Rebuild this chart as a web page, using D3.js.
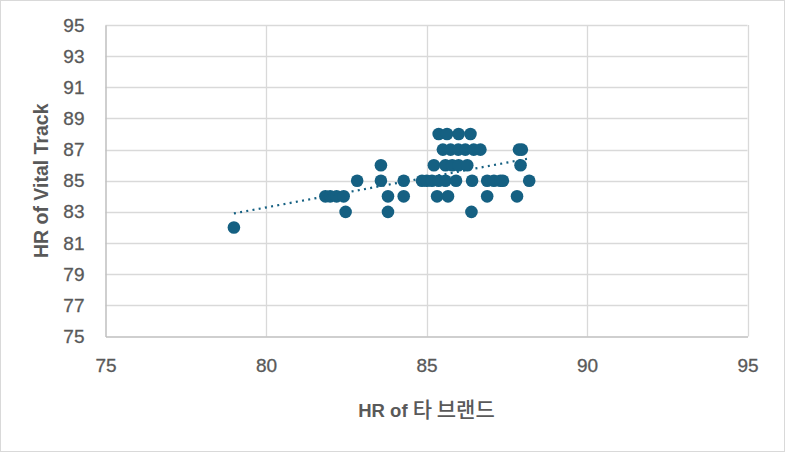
<!DOCTYPE html>
<html><head><meta charset="utf-8">
<script src="https://cdn.jsdelivr.net/npm/d3@7"></script>
<style>
html,body{margin:0;padding:0;background:#fff;}
svg{display:block;}
</style></head>
<body>
<script>
// Data
const xLabel = "HR of 타 브랜드";
const yLabel = "HR of Vital Track";
const xTicks = [75, 80, 85, 90, 95];
const yTicks = [75, 77, 79, 81, 83, 85, 87, 89, 91, 93, 95];
const hrOther = [
  79.0,
  81.85, 82.0, 82.2, 82.42,
  82.48,
  82.84,
  83.58, 83.58,
  83.8, 83.8,
  84.29, 84.29,
  85.38, 85.64, 86.0, 86.37,
  85.51, 85.75, 85.99, 86.21, 86.47, 86.68, 87.88, 87.97,
  85.23, 85.59, 85.8, 86.0, 86.27, 87.93,
  84.86, 85.01, 85.17, 85.38, 85.59, 85.92, 86.42, 86.89, 87.1, 87.3, 87.38, 88.2,
  85.33, 85.67, 86.89, 87.82,
  86.4
];
const hrVital = [
  82,
  84, 84, 84, 84,
  83,
  85,
  86, 85,
  84, 83,
  85, 84,
  88, 88, 88, 88,
  87, 87, 87, 87, 87, 87, 87, 87,
  86, 86, 86, 86, 86, 86,
  85, 85, 85, 85, 85, 85, 85, 85, 85, 85, 85, 85,
  84, 84, 84, 84,
  83
];

const W = 785, H = 452;
const color = "#156082";
const svg = d3.select("body").append("svg").attr("width", W).attr("height", H);

svg.append("rect").attr("x", 0.5).attr("y", 0.5).attr("width", W - 1).attr("height", H - 1)
  .attr("fill", "#fff").attr("stroke", "#d9d9d9").attr("stroke-width", 1);

const x = d3.scaleLinear().domain([75, 95]).range([105.5, 747.5]);
const y = d3.scaleLinear().domain([75, 95]).range([336.5, 25]);

// gridlines
const g = svg.append("g");
g.selectAll(".vg").data(xTicks.slice(1)).join("line")
  .attr("x1", d => Math.round(x(d)) + 0.5).attr("x2", d => Math.round(x(d)) + 0.5)
  .attr("y1", y(95)).attr("y2", y(75))
  .attr("stroke", "#d9d9d9").attr("stroke-width", 1.3);
g.selectAll(".hg").data(yTicks.slice(1)).join("line")
  .attr("x1", x(75)).attr("x2", x(95))
  .attr("y1", d => Math.round(y(d)) + 0.5).attr("y2", d => Math.round(y(d)) + 0.5)
  .attr("stroke", "#d9d9d9").attr("stroke-width", 1.3);

// axes
const font = "'Liberation Sans', Arial, sans-serif";
const xAxis = d3.axisBottom(x).tickValues(xTicks).tickSize(0).tickPadding(22);
const yAxis = d3.axisLeft(y).tickValues(yTicks).tickSize(0).tickPadding(21);
const gx = svg.append("g").attr("transform", `translate(0,${y(75)})`).call(xAxis);
const gy = svg.append("g").attr("transform", `translate(${x(75)},0)`).call(yAxis);
[gx, gy].forEach(a => {
  a.select(".domain").attr("stroke", "#bfbfbf").attr("stroke-width", 1.5);
  a.selectAll("text").attr("font-family", font).attr("font-size", 19)
    .attr("fill", "#595959").attr("font-weight", 500)
    .attr("stroke", "#595959").attr("stroke-width", 0.3);
});

// trendline (linear regression of the data)
const n = hrOther.length;
const mx = d3.mean(hrOther), my = d3.mean(hrVital);
let sxy = 0, sxx = 0;
for (let i = 0; i < n; i++) { sxy += (hrOther[i] - mx) * (hrVital[i] - my); sxx += (hrOther[i] - mx) ** 2; }
const slope = sxy / sxx, icpt = my - slope * mx;
const [x0, x1] = d3.extent(hrOther);

// points
svg.append("g").selectAll("circle").data(d3.range(n)).join("circle")
  .attr("cx", i => x(hrOther[i])).attr("cy", i => y(hrVital[i]))
  .attr("r", 6.3).attr("fill", color);

svg.append("line")
  .attr("x1", x(x0)).attr("y1", y(icpt + slope * x0))
  .attr("x2", x(x1)).attr("y2", y(icpt + slope * x1))
  .attr("stroke", color).attr("stroke-width", 2.2)
  .attr("stroke-dasharray", "2 4.3");

// axis titles
const xt = svg.append("text").attr("x", (x(75) + x(95)) / 2).attr("y", 417)
  .attr("text-anchor", "middle").attr("fill", "#595959");
xt.append("tspan").attr("font-family", font).attr("font-weight", "bold").attr("font-size", 18.5)
  .text(xLabel.slice(0, 6));
xt.append("tspan").attr("font-family", "'Noto Sans CJK KR', sans-serif").attr("font-weight", 500)
  .attr("font-size", 21).text(xLabel.slice(6));
svg.append("text")
  .attr("transform", `translate(48,${(y(75) + y(95)) / 2}) rotate(-90)`)
  .attr("text-anchor", "middle").attr("font-size", 19.5).attr("fill", "#595959")
  .attr("font-family", font).attr("font-weight", "bold")
  .text(yLabel);
</script>
</body></html>
